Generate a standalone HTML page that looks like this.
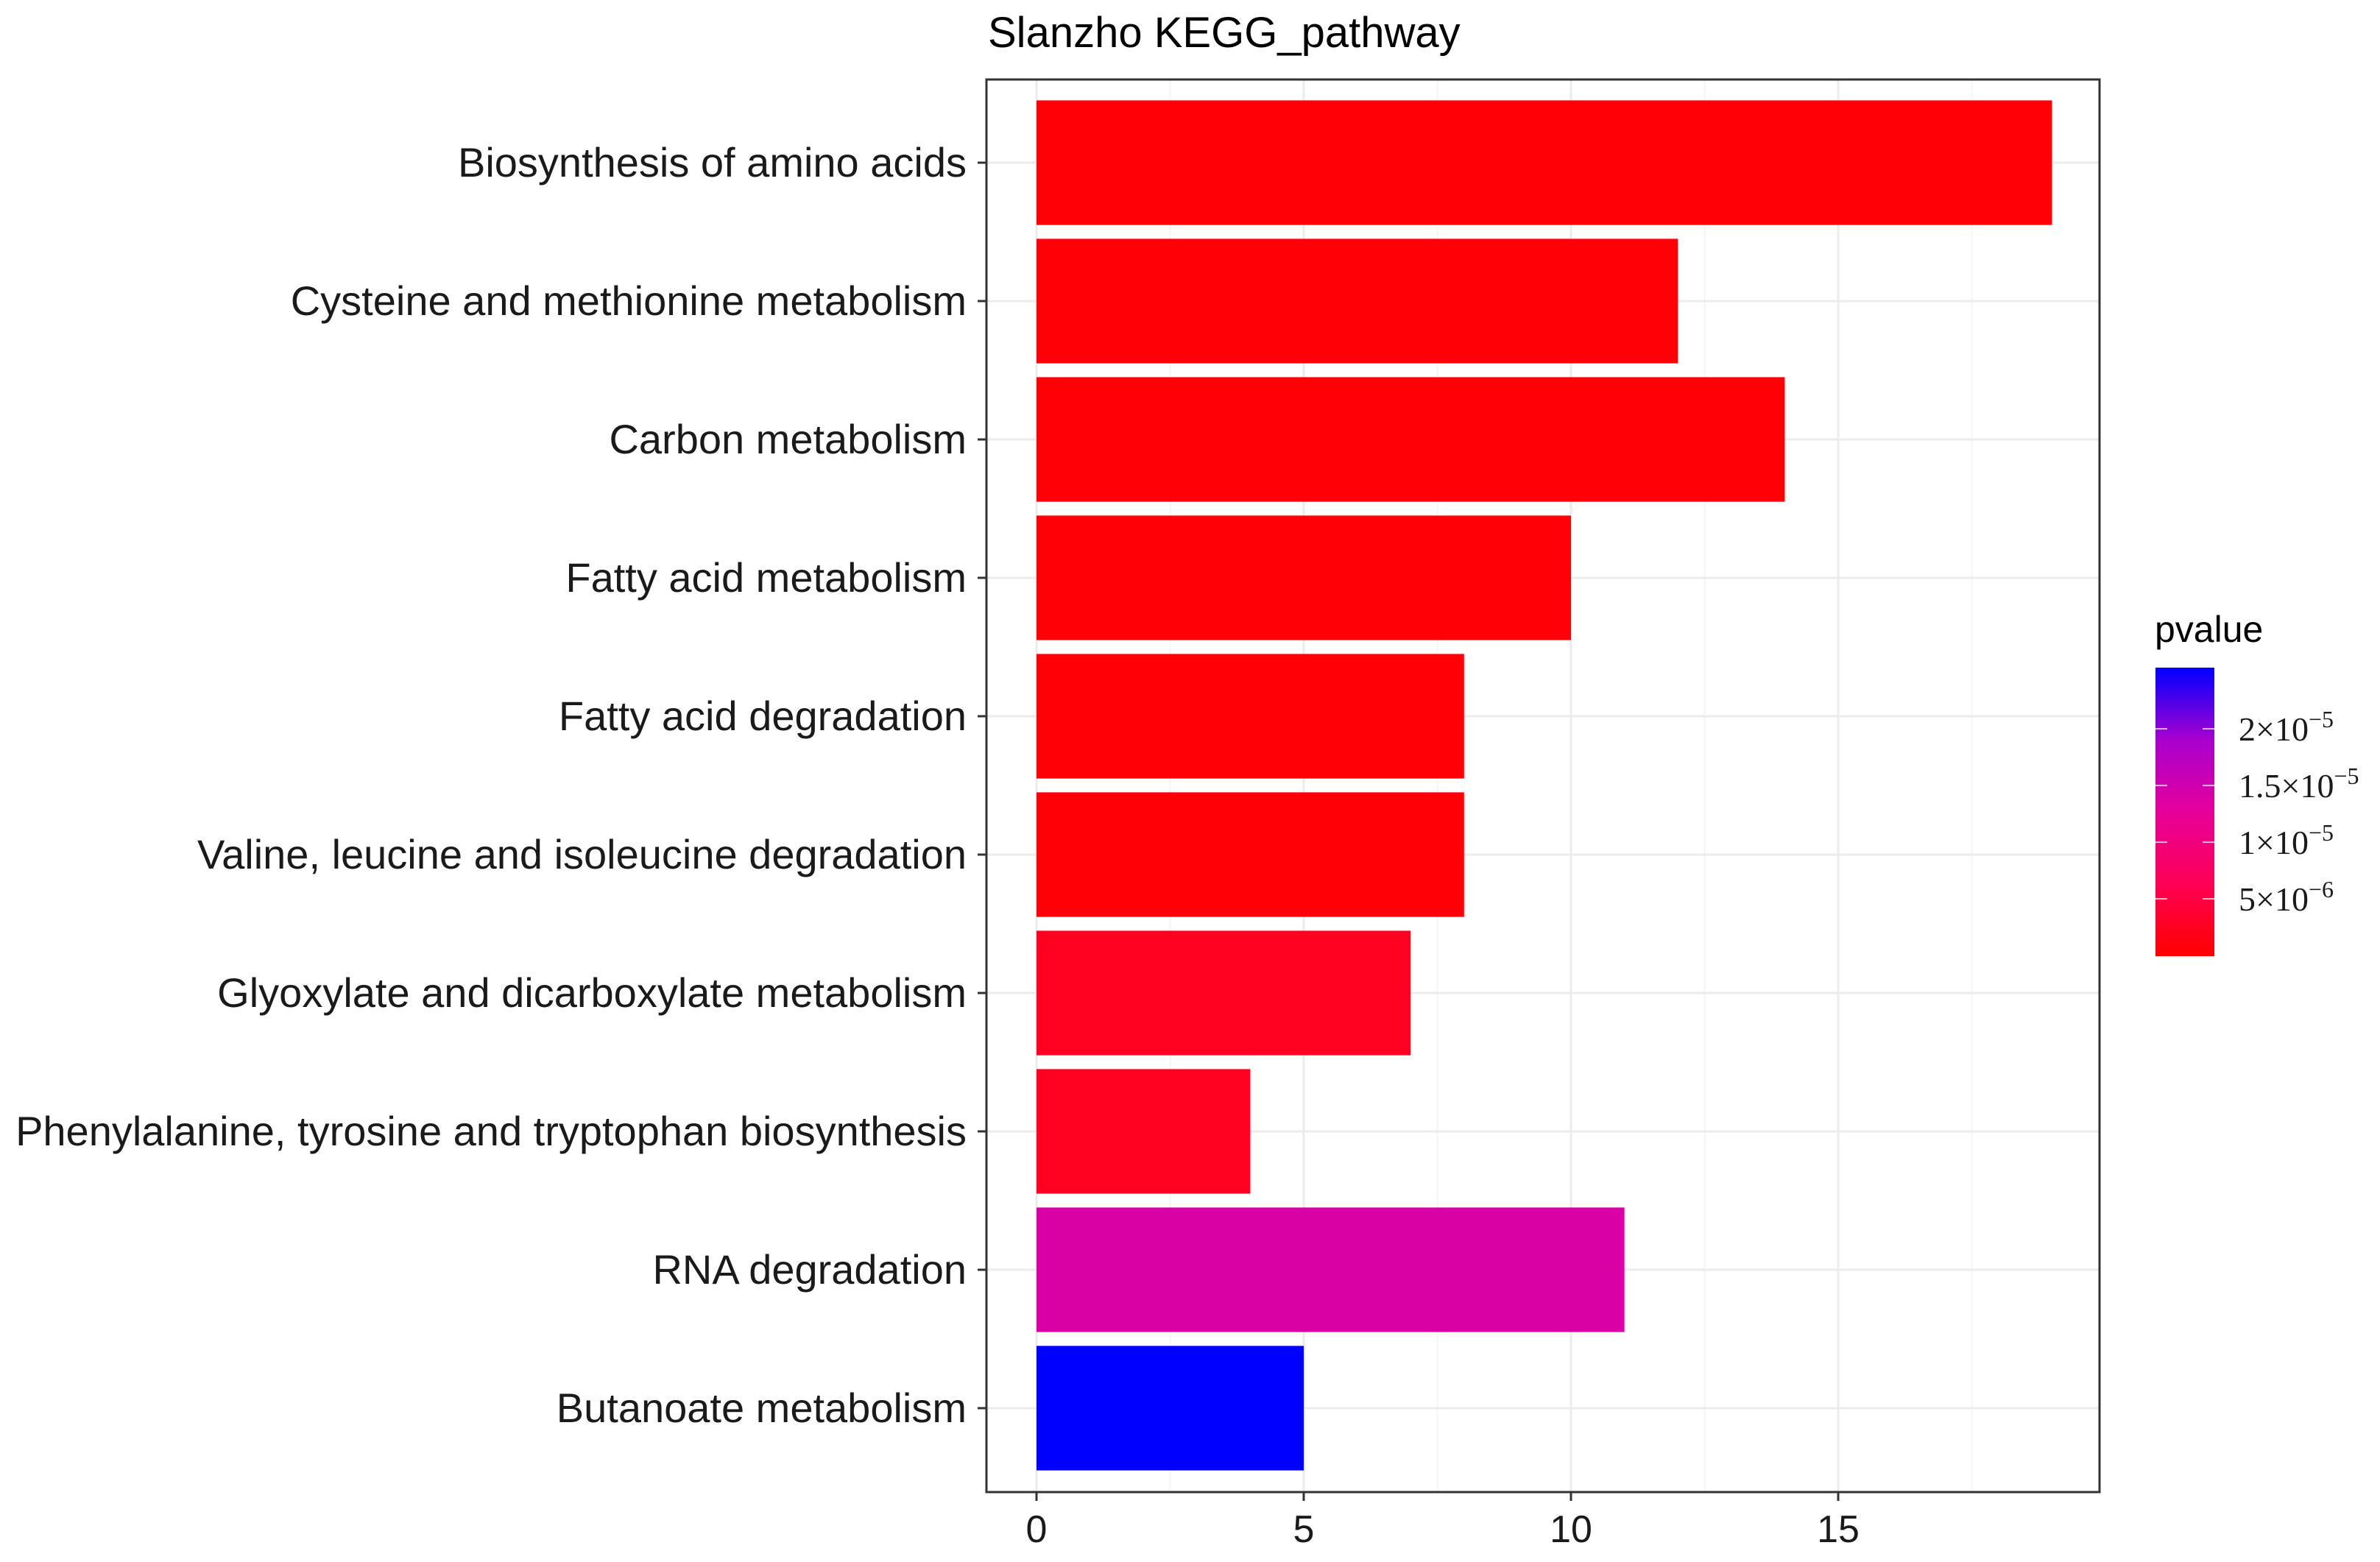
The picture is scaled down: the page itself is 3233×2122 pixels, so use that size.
<!DOCTYPE html>
<html><head><meta charset="utf-8"><style>
html,body{margin:0;padding:0;background:#fff;}
svg{display:block;font-family:"Liberation Sans",sans-serif;}
</style></head><body>
<svg id="chart" width="3233" height="2122" viewBox="0 0 3233 2122">
<defs>
<linearGradient id="lg" x1="0" y1="1" x2="0" y2="0">
<stop offset="0" stop-color="#ff0000"/>
<stop offset="0.25" stop-color="#ff0055"/>
<stop offset="0.5" stop-color="#e6009a"/>
<stop offset="0.75" stop-color="#a800cf"/>
<stop offset="1" stop-color="#0000ff"/>
</linearGradient>
</defs>
<text x="1342" y="64" font-size="58" fill="#000">Slanzho KEGG_pathway</text>
<g id="panel"></g>
<g id="legend">
<text x="2927" y="872" font-size="50" fill="#000">pvalue</text>
<rect x="2928" y="907" width="80" height="392" fill="url(#lg)"/>
</g>
</svg>
<script>
const categories=["Biosynthesis of amino acids","Cysteine and methionine metabolism","Carbon metabolism","Fatty acid metabolism","Fatty acid degradation","Valine, leucine and isoleucine degradation","Glyoxylate and dicarboxylate metabolism","Phenylalanine, tyrosine and tryptophan biosynthesis","RNA degradation","Butanoate metabolism"];
const counts=[19,12,14,10,8,8,7,4,11,5];
const pvalues=[5e-7,5e-7,5e-7,5e-7,5e-7,5e-7,2.5e-6,2.5e-6,1.4e-5,2.54e-5];
const xTicks=[0,5,10,15];
const legendTicks=[5e-6,1e-5,1.5e-5,2e-5];
const legendLabels=[["5","−6"],["1","−5"],["1.5","−5"],["2","−5"]];

const NS="http://www.w3.org/2000/svg";
const panel=document.getElementById('panel');
const legend=document.getElementById('legend');
const PL=1340,PR=2852,PT=108,PB=2027;
const X0=1408,XS=72.6;
const xs=v=>X0+v*XS;
const Y0=221,YS=188;
const ys=i=>Y0+i*YS;
const pMin=0,pMax=2.54e-5;
const LB=1298,LSC=(1298-907)/2.54e-5;
const ly=p=>LB-p*LSC;
const stops=[[0,[255,0,0]],[0.25,[255,0,85]],[0.5,[230,0,154]],[0.75,[168,0,207]],[1,[0,0,255]]];
function col(p){let t=Math.max(0,Math.min(1,(p-pMin)/(pMax-pMin)));
for(let k=0;k<stops.length-1;k++){const [a,c1]=stops[k],[b,c2]=stops[k+1];
if(t<=b){const u=(t-a)/(b-a);return `rgb(${c1.map((c,j)=>Math.round(c+(c2[j]-c)*u)).join(',')})`;}}
return 'rgb(0,0,255)';}
function mk(tag,attrs,parent){const e=document.createElementNS(NS,tag);for(const k in attrs)e.setAttribute(k,attrs[k]);parent.appendChild(e);return e;}

const bg=mk('rect',{x:PL,y:PT,width:PR-PL,height:PB-PT,fill:'#fff'},panel);


for(let k=0;k<xTicks.length;k++){const v=xTicks[k]+2.5;const l=mk('line',{x1:xs(v),x2:xs(v),y1:PT,y2:PB,stroke:'#f4f4f4','stroke-width':2},panel);

}
xTicks.forEach(v=>{const l=mk('line',{x1:xs(v),x2:xs(v),y1:PT,y2:PB,stroke:'#ebebeb','stroke-width':3},panel);

});
categories.forEach((c,i)=>{const l=mk('line',{x1:PL,x2:PR,y1:ys(i),y2:ys(i),stroke:'#ebebeb','stroke-width':3},panel);

});
categories.forEach((c,i)=>{const h=YS*0.9;
const r=mk('rect',{x:xs(0),y:ys(i)-h/2,width:xs(counts[i])-xs(0),height:h,fill:col(pvalues[i])},panel);


const t=mk('text',{x:1313,y:ys(i)+19,'font-size':56,'text-anchor':'end',fill:'#1a1a1a'},panel);
t.textContent=c;


const tk=mk('line',{x1:1328,x2:PL,y1:ys(i),y2:ys(i),stroke:'#333','stroke-width':3},panel);

});
const br=mk('rect',{x:PL,y:PT,width:PR-PL,height:PB-PT,fill:'none',stroke:'#333','stroke-width':3},panel);


xTicks.forEach(v=>{const tk=mk('line',{x1:xs(v),x2:xs(v),y1:PB,y2:PB+12,stroke:'#333','stroke-width':3},panel);


const t=mk('text',{x:xs(v),y:2095,'font-size':52,'text-anchor':'middle',fill:'#1a1a1a'},panel);
t.textContent=String(v);

});
legendTicks.forEach((p,i)=>{const y=ly(p);
const a=mk('line',{x1:2928,x2:2944,y1:y,y2:y,stroke:'#fff','stroke-opacity':0.7,'stroke-width':2},legend);


const b=mk('line',{x1:2992,x2:3008,y1:y,y2:y,stroke:'#fff','stroke-opacity':0.7,'stroke-width':2},legend);


const t=mk('text',{x:3041,y:y+16,'font-size':46,fill:'#1a1a1a','font-family':'"Liberation Serif",serif'},legend);


const s1=mk('tspan',{},t);s1.textContent=legendLabels[i][0]+"×10";
const s2=mk('tspan',{dy:-18,'font-size':32},t);s2.textContent=legendLabels[i][1];});
</script>
</body></html>
